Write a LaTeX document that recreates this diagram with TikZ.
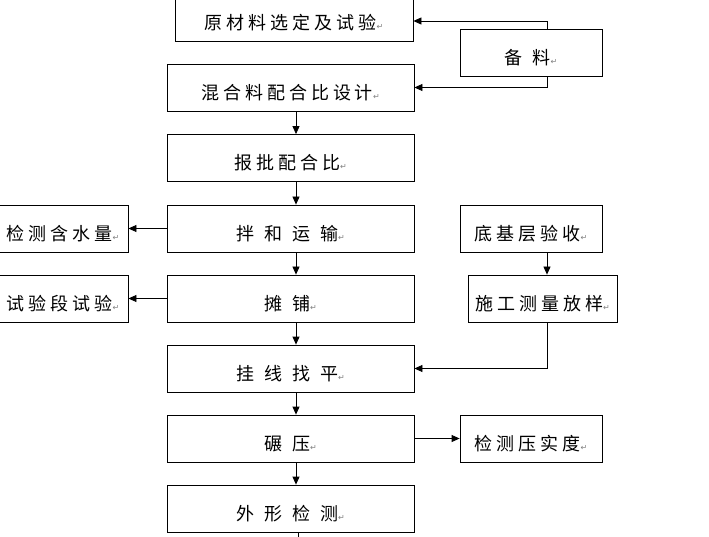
\documentclass[tikz,border=0pt]{standalone}
\usepackage{fontspec}
\usetikzlibrary{arrows.meta}
\newfontfamily\cjk[LetterSpace=22]{Noto Sans CJK SC}
\newfontfamily\djv{DejaVu Sans}
\newcommand\pmk{{\color{gray}\fontsize{8}{8}\selectfont\djv ↵}}
\newcommand\gap{\hspace{10pt}}
\newcommand\lbl[1]{\smash{\raisebox{-12pt}{\fontsize{18}{18}\selectfont\cjk #1\pmk}}}
\begin{document}
\begin{tikzpicture}[x=1pt,y=-1pt,
  box/.style={draw=black,line width=0.8pt,inner sep=0pt,anchor=center},
  arr/.style={draw=black,line width=0.8pt,-{Triangle[length=8pt,width=7pt]}},
  ln/.style={draw=black,line width=0.8pt}]
\useasboundingbox (0,0) rectangle (709,537);
\clip (0,0) rectangle (709,537);
% main column
\node[box,minimum width=238pt,minimum height=47pt] (raw) at (294,17.5) {\lbl{原材料选定及试验}};
\node[box,minimum width=247pt,minimum height=47pt] (mix) at (290.5,87.5) {\lbl{混合料配合比设计}};
\node[box,minimum width=247pt,minimum height=47pt] (pb) at (290.5,158) {\lbl{报批配合比}};
\node[box,minimum width=247pt,minimum height=47pt] (bh) at (290.5,228.5) {\lbl{拌\gap 和\gap 运\gap 输}};
\node[box,minimum width=247pt,minimum height=47pt] (tp) at (290.5,298.5) {\lbl{摊\gap 铺}};
\node[box,minimum width=247pt,minimum height=47pt] (gx) at (290.5,368.5) {\lbl{挂\gap 线\gap 找\gap 平}};
\node[box,minimum width=247pt,minimum height=47pt] (ny) at (290.5,438.5) {\lbl{碾\gap 压}};
\node[box,minimum width=247pt,minimum height=47pt] (wx) at (290.5,508.5) {\lbl{外\gap 形\gap 检\gap 测}};
% left column
\node[box,minimum width=130pt,minimum height=47pt] (hs) at (63,228.5) {\lbl{检测含水量}};
\node[box,minimum width=130pt,minimum height=47pt] (sy) at (63,298.5) {\lbl{试验段试验}};
% right column
\node[box,minimum width=142pt,minimum height=47pt] (bl) at (531,52.5) {\lbl{备\gap 料}};
\node[box,minimum width=142pt,minimum height=47pt] (dj) at (531,228.5) {\lbl{底基层验收}};
\node[box,minimum width=149pt,minimum height=47pt] (sg) at (542.5,298.5) {\lbl{施工测量放样}};
\node[box,minimum width=142pt,minimum height=47pt] (ys) at (531,438.5) {\lbl{检测压实度}};
% helper coordinates
\coordinate (c1) at (547,21);
\coordinate (vx) at (296,0);
\coordinate (end) at (298,545);
% connectors
\draw[arr] (c1 |- bl.north) |- (raw.east |- c1);
\draw[arr] (c1 |- bl.south) |- (mix.east);
\draw[arr] (mix.south -| vx) -- (pb.north -| vx);
\draw[arr] (pb.south -| vx) -- (bh.north -| vx);
\draw[arr] (bh.south -| vx) -- (tp.north -| vx);
\draw[arr] (tp.south -| vx) -- (gx.north -| vx);
\draw[arr] (gx.south -| vx) -- (ny.north -| vx);
\draw[arr] (ny.south -| vx) -- (wx.north -| vx);
\draw[ln] (wx.south -| end) -- (end);
\draw[arr] (bh.west) -- (hs.east);
\draw[arr] (tp.west) -- (sy.east);
\draw[arr] (dj.south -| c1) -- (sg.north -| c1);
\draw[arr] (sg.south -| c1) |- (gx.east);
\draw[arr] (ny.east) -- (ys.west);
\end{tikzpicture}
\end{document}
